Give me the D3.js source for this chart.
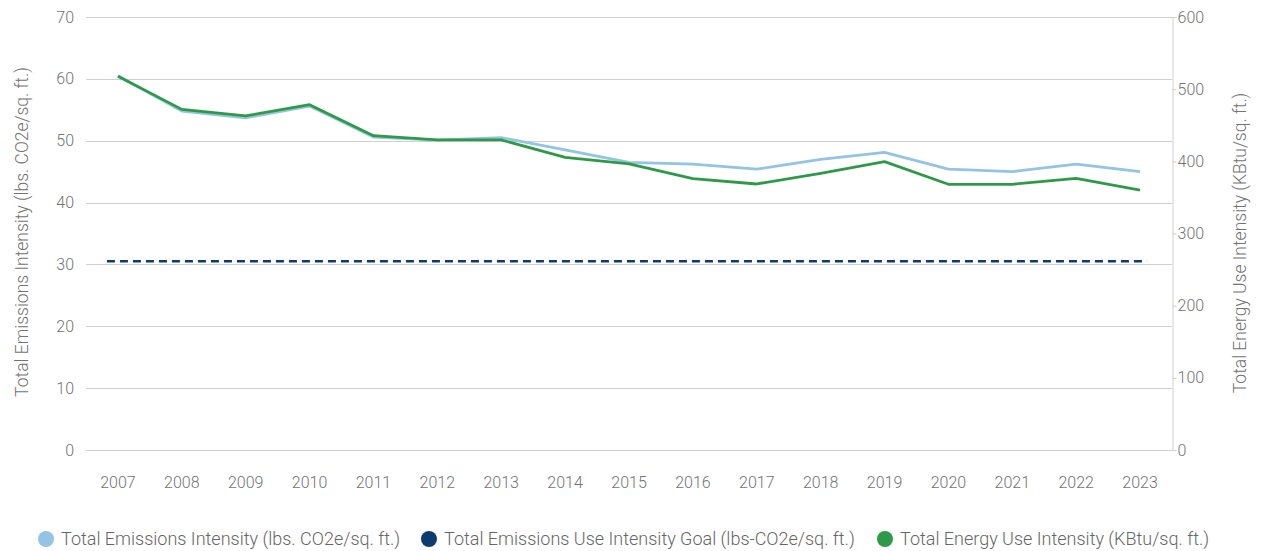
<!DOCTYPE html>
<html><head><meta charset="utf-8">
<script src="https://cdn.jsdelivr.net/npm/d3@7"></script>
<style>body{margin:0;background:#fff}svg{display:block}</style>
</head><body>
<svg id="c" width="1264" height="551"></svg>
<script>
const years = ["2007","2008","2009","2010","2011","2012","2013","2014","2015","2016","2017","2018","2019","2020","2021","2022","2023"];
const emissions = [60.5,54.8,53.7,55.6,50.6,50.1,50.5,48.5,46.5,46.2,45.4,47.0,48.1,45.4,45.0,46.2,45.0];
const energy = [518,472,463,478.5,435.5,429.6,429.6,405.5,396.6,376,368.6,383.4,399.5,368.2,368.2,376.5,360];
const goal = [30.5,30.5,30.5,30.5,30.5,30.5,30.5,30.5,30.5,30.5,30.5,30.5,30.5,30.5,30.5,30.5,30.5];
const leftTicks = [0,10,20,30,40,50,60,70];
const rightTicks = [0,100,200,300,400,500,600];
const legendLabels = ["Total Emissions Intensity (lbs. CO2e/sq. ft.)","Total Emissions Use Intensity Goal (lbs-CO2e/sq. ft.)","Total Energy Use Intensity (KBtu/sq. ft.)"];
const colors = ["#93c4e4","#0d3b6e","#2e9a48"];

const svg = d3.select("#c");
const m = {l:86, r:1172, t:17, b:450};
const x = d3.scaleBand().domain(years).range([m.l, m.r]);
const cx = d => x(d) + x.bandwidth()/2;
const yL = d3.scaleLinear().domain([0,70]).range([m.b, m.t]);
const yR = d3.scaleLinear().domain([0,600]).range([m.b, m.t]);
const font = "Roboto, 'Liberation Sans', Arial, sans-serif";
const txt = "#737373";

// grid
svg.append("g").selectAll("line").data(leftTicks).join("line")
  .attr("x1", m.l).attr("x2", m.r)
  .attr("y1", d=>Math.round(yL(d))+0.5).attr("y2", d=>Math.round(yL(d))+0.5)
  .attr("stroke","#cfcfcf").attr("stroke-width",1);

// left tick labels
svg.append("g").selectAll("text").data(leftTicks).join("text")
  .attr("x", 74).attr("y", d=>yL(d)).attr("dy","0.35em")
  .attr("text-anchor","end").attr("font-family",font).attr("font-weight",300)
  .attr("font-size",16).attr("fill",txt).text(d=>d);

// right axis
const ra = svg.append("g").attr("transform",`translate(${m.r+0.5},0)`)
  .call(d3.axisRight(yR).tickValues(rightTicks).tickSize(4).tickPadding(1));
ra.select(".domain").attr("stroke","#cfcfcf");
ra.selectAll(".tick line").attr("stroke","#cfcfcf");
ra.selectAll(".tick text").attr("font-family",font).attr("font-weight",300)
  .attr("font-size",16).attr("fill",txt);

// x labels
svg.append("g").selectAll("text").data(years).join("text")
  .attr("x", d=>cx(d)).attr("y", 482).attr("dy","0.35em")
  .attr("text-anchor","middle").attr("font-family",font).attr("font-weight",300)
  .attr("font-size",16).attr("fill",txt).text(d=>d);

// axis titles
svg.append("text").attr("transform",`translate(22,232) rotate(-90)`)
  .attr("text-anchor","middle").attr("dy","0.35em").attr("font-family",font).attr("font-weight",300)
  .attr("font-size",17.5).attr("fill",txt)
  .text("Total Emissions Intensity (lbs. CO2e/sq. ft.)");
svg.append("text").attr("transform",`translate(1240,243) rotate(-90)`)
  .attr("text-anchor","middle").attr("dy","0.35em").attr("font-family",font).attr("font-weight",300)
  .attr("font-size",17.5).attr("fill",txt)
  .text("Total Energy Use Intensity (KBtu/sq. ft.)");

// goal line (dashed), slightly extended beyond end points
const gx0 = cx(years[0]) - 11, gx1 = cx(years[years.length-1]) + 7;
svg.append("line").attr("x1",gx0).attr("x2",gx1)
  .attr("y1", yL(goal[0])).attr("y2", yL(goal[goal.length-1]))
  .attr("stroke",colors[1]).attr("stroke-width",2.5).attr("stroke-dasharray","8,5");

// lines
const lineL = d3.line().x((d,i)=>cx(years[i])).y(d=>yL(d));
const lineR = d3.line().x((d,i)=>cx(years[i])).y(d=>yR(d));
svg.append("path").datum(emissions).attr("d",lineL).attr("fill","none")
  .attr("stroke",colors[0]).attr("stroke-width",2.8).attr("stroke-linejoin","round");
svg.append("path").datum(energy).attr("d",lineR).attr("fill","none")
  .attr("stroke",colors[2]).attr("stroke-width",2.8).attr("stroke-linejoin","round");

// legend
const legX = [46, 429, 885];
const lg = svg.append("g").selectAll("g").data(legendLabels).join("g")
  .attr("transform",(d,i)=>`translate(${legX[i]},539)`);
lg.append("circle").attr("r",8).attr("fill",(d,i)=>colors[i]);
lg.append("text").attr("x",15).attr("dy","0.35em")
  .attr("font-family",font).attr("font-weight",300)
  .attr("font-size",18).attr("fill","#666").text(d=>d);
</script>
</body></html>
